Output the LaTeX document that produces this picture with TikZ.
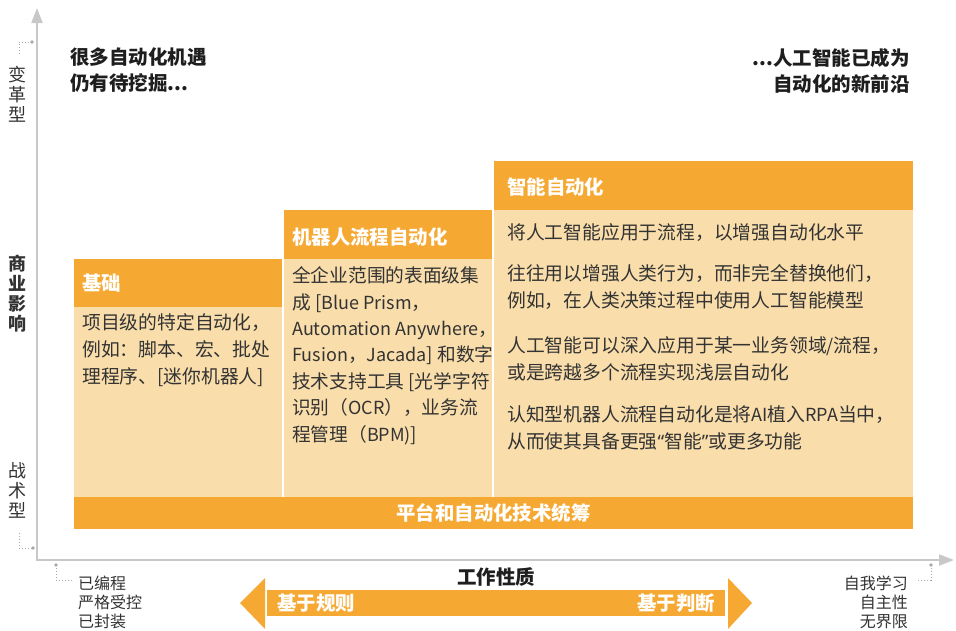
\documentclass[tikz,border=0pt]{standalone}
\usepackage{fontspec}
\setmainfont{Noto Sans CJK SC}
\newfontfamily\qfont{Noto Sans}
\usetikzlibrary{arrows.meta}
\definecolor{orng}{HTML}{F5A933}
\definecolor{lite}{HTML}{F9DDAB}
\definecolor{txt}{HTML}{333333}
\definecolor{titlec}{HTML}{1E1E1E}
\definecolor{axisg}{HTML}{C8C8C8}
\definecolor{dotg}{HTML}{A8A8A8}
\newcommand\lat[1]{{\fontsize{18}{18}\selectfont #1}}
\newcommand\qt[1]{{\qfont\fontsize{18.5}{18}\selectfont #1}}
\begin{document}
\begin{tikzpicture}[x=1pt,y=-1pt,
  hdrtext/.style={text=white, font=\fontsize{19.4}{22}\selectfont\bfseries, inner sep=0, anchor=west},
  bodytext/.style={text=txt, font=\fontsize{18.8}{27}\selectfont, inner sep=0, anchor=north west, align=left},
  bodytexttwo/.style={text=txt, font=\fontsize{18.7}{26.4}\selectfont, inner sep=0, anchor=north west, align=left},
  titletext/.style={text=titlec, font=\fontsize{19.5}{26}\selectfont\bfseries, inner sep=0},
  vlabel/.style={text=txt, font=\fontsize{18}{20}\selectfont, inner sep=0, anchor=north, align=center},
  sidelabel/.style={text=txt, font=\fontsize{16}{19}\selectfont, inner sep=0},
  axisline/.style={draw=axisg, line width=2pt, -{Triangle[length=15pt,width=11pt]}},
  dotline/.style={draw=dotg, dotted, line width=1pt},
  dotend/.style={fill=dotg}
]
\useasboundingbox (0,0) rectangle (956,630);
\fill[white] (0,0) rectangle (956,630);

% axes
\draw[axisline] (37,560) -- (37,8);
\draw[axisline] (36,560) -- (954,560);

% dotted corner markers
\draw[dotline] (32,42) -- (19,42) -- (19,56);
\fill[dotend] (32,42) circle (1.8);
\draw[dotline] (19,533) -- (19,548) -- (33,548);
\fill[dotend] (33,548) circle (1.8);
\draw[dotline] (56,565) -- (56,580) -- (72,580);
\fill[dotend] (56,565) circle (1.8);
\draw[dotline] (931,565) -- (931,580) -- (917,580);
\fill[dotend] (931,565) circle (1.8);

% y axis labels
\node[vlabel] (ytop) at (18,66) {变\\革\\型};
\node[vlabel, font=\fontsize{18}{20}\selectfont\bfseries] (ymid) at (18,255) {商\\业\\影\\响};
\node[vlabel] (ybot) at (18,462) {战\\术\\型};

% titles
\node[titletext, anchor=north west, align=left] (tl) at (70,48) {很多自动化机遇\\仍有待挖掘...};
\node[titletext, anchor=north east, align=right] (tr) at (910,48) {...人工智能已成为\\自动化的新前沿};

% boxes
\fill[orng] (74,259) rectangle (282,307);
\fill[lite] (74,307) rectangle (282,497);
\fill[orng] (284,210) rectangle (492,259);
\fill[lite] (284,259) rectangle (492,497);
\fill[orng] (494,161) rectangle (913,210);
\fill[lite] (494,210) rectangle (913,497);
\fill[orng] (74,497) rectangle (913,529);

\node[hdrtext] (h1) at (82,283) {基础};
\node[hdrtext] (h2) at (292,237) {机器人流程自动化};
\node[hdrtext] (h3) at (507,187) {智能自动化};

\node[bodytext] (b1) at (82,313.5) {项目级的特定自动化，\\例如：脚本、宏、批处\\理程序、[迷你机器人]};
\node[bodytexttwo] (b2) at (292,266.5) {全企业范围的表面级集\\成 [\lat{Blue Prism}，\\\lat{Automation Anywhere}，\\\lat{Fusion}，\lat{Jacada}] 和数字\\技术支持工具 [光学字符\\识别（\lat{OCR}），业务流\\程管理（\lat{BPM)}]};
\node[bodytext] (b3a) at (507,223.5) {将人工智能应用于流程，以增强自动化水平};
\node[bodytext] (b3b) at (507,264.5) {往往用以增强人类行为，而非完全替换他们，\\例如，在人类决策过程中使用人工智能模型};
\node[bodytext] (b3c) at (507,336) {人工智能可以深入应用于某一业务领域\lat{/}流程，\\或是跨越多个流程实现浅层自动化};
\node[bodytext] (b3d) at (507,405) {认知型机器人流程自动化是将\lat{AI}植入\lat{RPA}当中，\\从而使其具备更强\qt{“}智能\qt{”}或更多功能};

\node[hdrtext, anchor=center] (plat) at (493.5,513) {平台和自动化技术统筹};

% bottom axis
\node[titletext, anchor=center] (work) at (496,577) {工作性质};
\fill[orng] (240,603) -- (265,578) -- (265,629) -- cycle;
\fill[orng] (267,590) rectangle (725,616);
\fill[orng] (752,603) -- (728,578) -- (728,629) -- cycle;
\node[hdrtext] (rule) at (277,603) {基于规则};
\node[hdrtext, anchor=east] (judge) at (715,603) {基于判断};

\node[sidelabel, anchor=north west, align=left] (bl) at (78,575.5) {已编程\\严格受控\\已封装};
\node[sidelabel, anchor=north east, align=right] (br) at (908,575.5) {自我学习\\自主性\\无界限};
\end{tikzpicture}
\end{document}
